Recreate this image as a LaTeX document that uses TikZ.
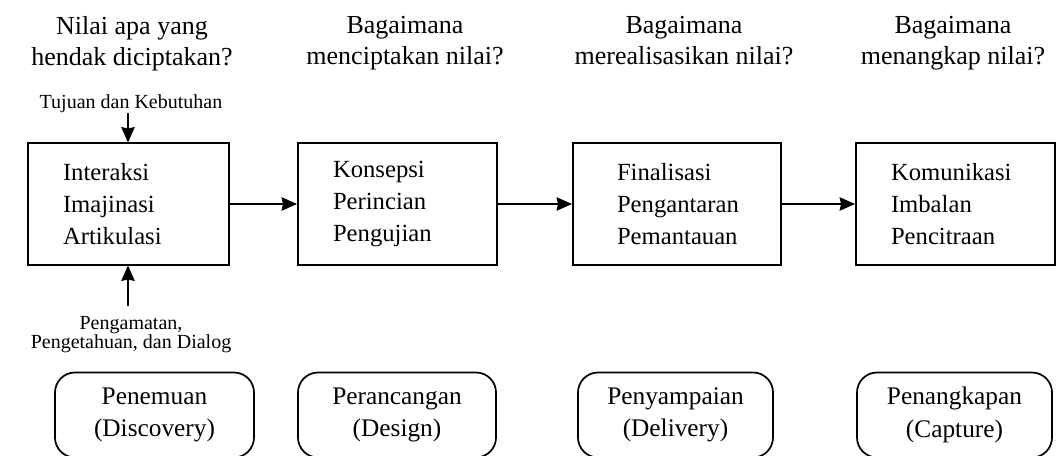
\documentclass[tikz,border=0pt]{standalone}
\usepackage{fontspec}
\setmainfont{Liberation Serif}
\usetikzlibrary{arrows.meta}

\begin{document}
\begin{tikzpicture}[x=0.75pt,y=-0.75pt,
  question/.style={align=center,inner sep=0pt,anchor=north,
    font=\fontsize{19.5}{23.5}\selectfont},
  stage/.style={draw,line width=1.5pt,rectangle,minimum height=121*0.75pt,
    anchor=center,align=left,font=\fontsize{18.5}{24.3}\selectfont},
  phase/.style={draw,line width=1.3pt,rounded corners=15pt,minimum height=85*0.75pt,
    anchor=center,align=center,font=\fontsize{19}{24.5}\selectfont},
  note/.style={align=center,inner sep=0pt,font=\fontsize{15}{14.5}\selectfont},
  flow/.style={line width=1.5pt,-{Stealth[length=11.5pt,width=10pt,inset=1pt]}}]

\useasboundingbox (0,0) rectangle (1060,456);

% guiding questions
\node[question] (q1) at (132,16) {Nilai apa yang\\hendak diciptakan?};
\node[question] (q2) at (405,16) {Bagaimana\\menciptakan nilai?};
\node[question] (q3) at (684,16) {Bagaimana\\merealisasikan nilai?};
\node[question] (q4) at (953,16) {Bagaimana\\menangkap nilai?};

% activity boxes
\node[stage,minimum width=201*0.75pt,text width=131*0.75pt,inner xsep=35*0.75pt] (b1) at (128.5,204)
  {Interaksi\\Imajinasi\\Artikulasi};
\node[stage,minimum width=199*0.75pt,text width=129*0.75pt,inner xsep=35*0.75pt] (b2) at (397.5,204)
  {Konsepsi\\Perincian\\Pengujian};
\node[stage,minimum width=208*0.75pt,text width=120*0.75pt,inner xsep=44*0.75pt] (b3) at (677,204)
  {Finalisasi\\Pengantaran\\Pemantauan};
\node[stage,minimum width=199*0.75pt,text width=129*0.75pt,inner xsep=35*0.75pt] (b4) at (955.5,204)
  {Komunikasi\\Imbalan\\Pencitraan};

\draw[flow] (b1) -- (b2);
\draw[flow] (b2) -- (b3);
\draw[flow] (b3) -- (b4);

% inputs to the first box
\node[note] (in1) at (131,104) {Tujuan dan Kebutuhan};
\coordinate (in1end) at (128,113);
\draw[flow] (in1end) -- (b1.north -| in1end);
\node[note,anchor=north] (in2) at (131,316) {Pengamatan,\\Pengetahuan, dan Dialog};
\coordinate (in2start) at (128,306);
\draw[flow] (in2start) -- (b1.south -| in2start);

% phase labels
\node[phase,minimum width=199*0.75pt] (p1) at (154.5,415) {Penemuan\\(Discovery)};
\node[phase,minimum width=198*0.75pt] (p2) at (397,415) {Perancangan\\(Design)};
\node[phase,minimum width=195*0.75pt] (p3) at (675.5,415) {Penyampaian\\(Delivery)};
\node[phase,minimum width=195*0.75pt] (p4) at (954.5,415) {Penangkapan\\(Capture)};

\end{tikzpicture}
\end{document}
